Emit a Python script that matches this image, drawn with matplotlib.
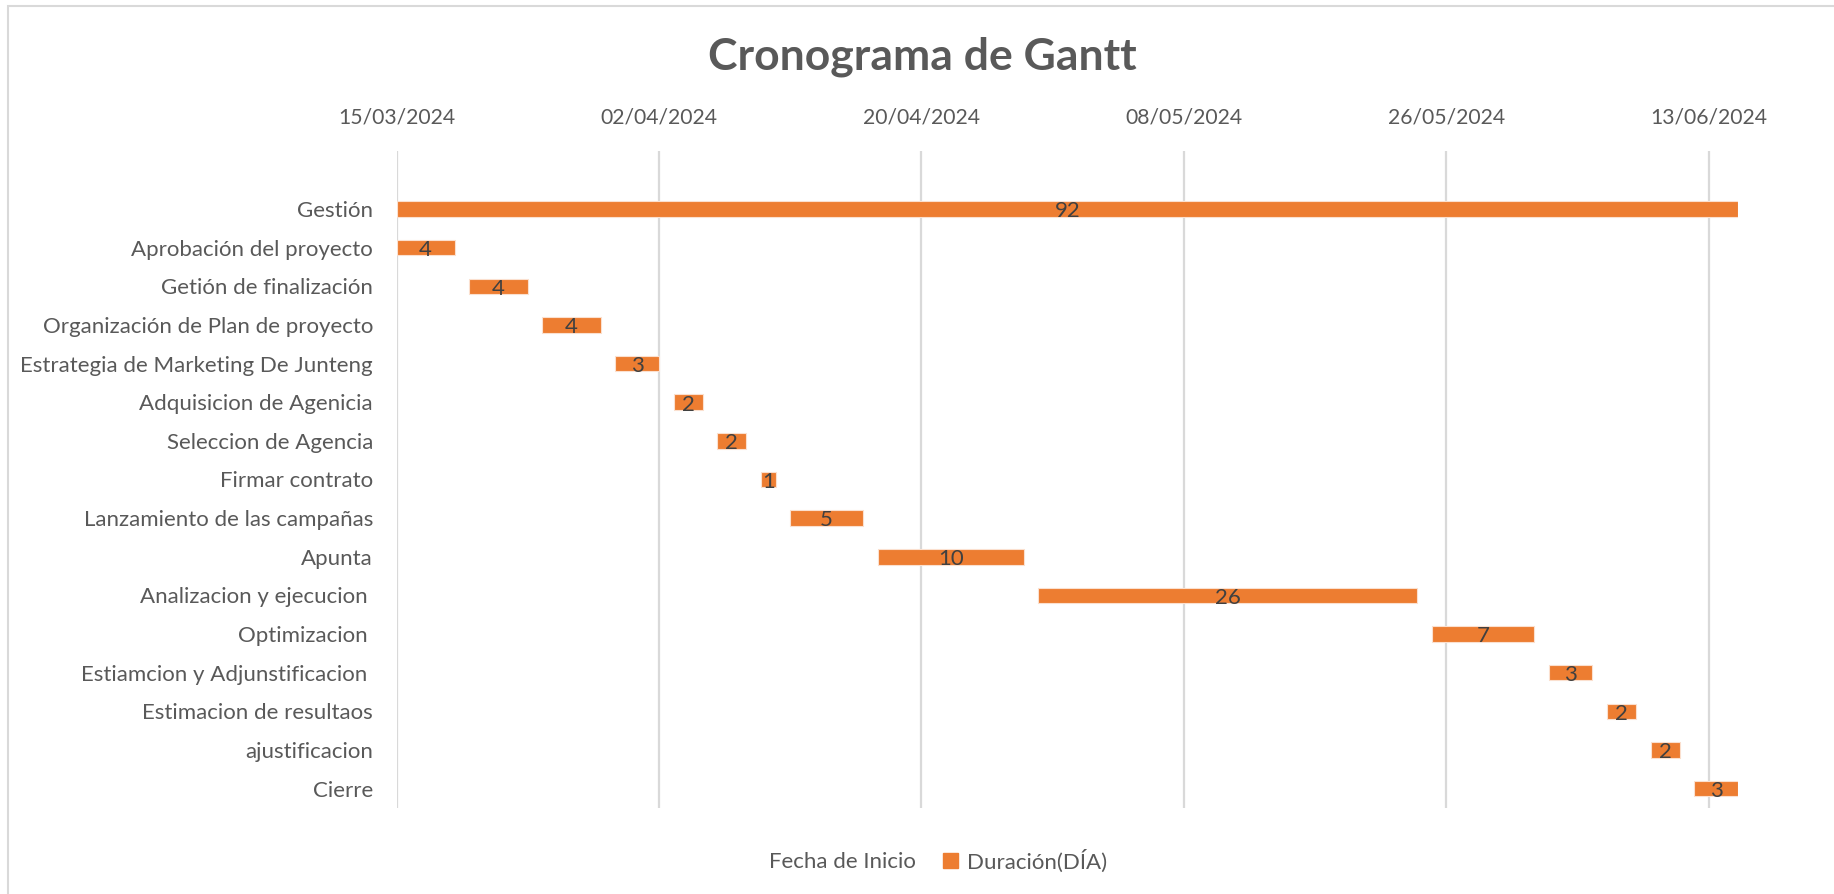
import matplotlib
matplotlib.use("Agg")
import matplotlib.pyplot as plt
import matplotlib.dates as mdates
from matplotlib.patches import Patch, Rectangle
import datetime as dt

tasks = ["Gestión", "Aprobación del proyecto", "Getión de finalización",
         "Organización de Plan de proyecto", "Estrategia de Marketing De Junteng",
         "Adquisicion de Agenicia", "Seleccion de Agencia", "Firmar contrato",
         "Lanzamiento de las campañas", "Apunta", "Analizacion y ejecucion ",
         "Optimizacion ", "Estiamcion y Adjunstificacion ", "Estimacion de resultaos",
         "ajustificacion", "Cierre"]
start_dates = ["15/03/2024", "15/03/2024", "20/03/2024", "25/03/2024", "30/03/2024",
               "03/04/2024", "06/04/2024", "09/04/2024", "11/04/2024", "17/04/2024",
               "28/04/2024", "25/05/2024", "02/06/2024", "06/06/2024", "09/06/2024",
               "12/06/2024"]
durations = [92, 4, 4, 4, 3, 2, 2, 1, 5, 10, 26, 7, 3, 2, 2, 3]
tick_dates = ["15/03/2024", "02/04/2024", "20/04/2024", "08/05/2024", "26/05/2024", "13/06/2024"]
axis_min = "15/03/2024"
axis_max = "15/06/2024"

def d(s):
    return mdates.date2num(dt.datetime.strptime(s, "%d/%m/%Y"))

plt.rcParams['font.family'] = ['Lato', 'DejaVu Sans']
GREY = "#595959"
ORANGE = "#ED7D31"

fig = plt.figure(figsize=(18.34, 8.94), dpi=100)
ax = fig.add_axes([0.2162, 0.0962, 0.9477 - 0.2162, 0.8311 - 0.0962])

starts = [d(s) for s in start_dates]
ypos = list(range(len(tasks)))
ax.barh(ypos, durations, left=starts, height=0.4, color=ORANGE,
        edgecolor="#FBE0CF", linewidth=0.8, zorder=3)
for y, s, w in zip(ypos, starts, durations):
    ax.text(s + w / 2, y + 0.06, str(w), ha="center", va="center",
            fontsize=16, color="#404040", zorder=4)

ax.set_ylim(len(tasks) - 0.5, -1.5)
ax.set_yticks(ypos)
ax.set_yticklabels(tasks)
ax.set_xlim(d(axis_min), d(axis_max))
ax.set_xticks([d(t) for t in tick_dates])
ax.set_xticklabels(tick_dates)
ax.xaxis.tick_top()
ax.tick_params(axis="both", length=0, labelcolor=GREY)
ax.tick_params(axis="x", pad=17, labelsize=15.2)
ax.tick_params(axis="y", pad=17, labelsize=16)
ax.grid(axis="x", color="#D9D9D9", linewidth=1.6, zorder=0)
for sp in ax.spines.values():
    sp.set_visible(False)

fig.text(0.503, 0.937, "Cronograma de Gantt", ha="center", va="center",
         fontsize=32, fontweight="bold", color=GREY)

handles = [Patch(facecolor="none", edgecolor="none", label="Fecha de Inicio"),
           Patch(facecolor=ORANGE, edgecolor=ORANGE, label="Duración(DÍA)")]
leg = fig.legend(handles=handles, loc="center", bbox_to_anchor=(0.505, 0.037),
                 ncol=2, frameon=False, fontsize=16, handlelength=0.7,
                 handleheight=0.7, handletextpad=0.4, columnspacing=1.2)
for t in leg.get_texts():
    t.set_color(GREY)

fig.add_artist(Rectangle((8 / 1834, -0.05), 1.1, 1 - 6 / 894 + 0.05,
                         transform=fig.transFigure, fill=False,
                         edgecolor="#D9D9D9", linewidth=1.5))

fig.savefig("out.png", dpi=100)
